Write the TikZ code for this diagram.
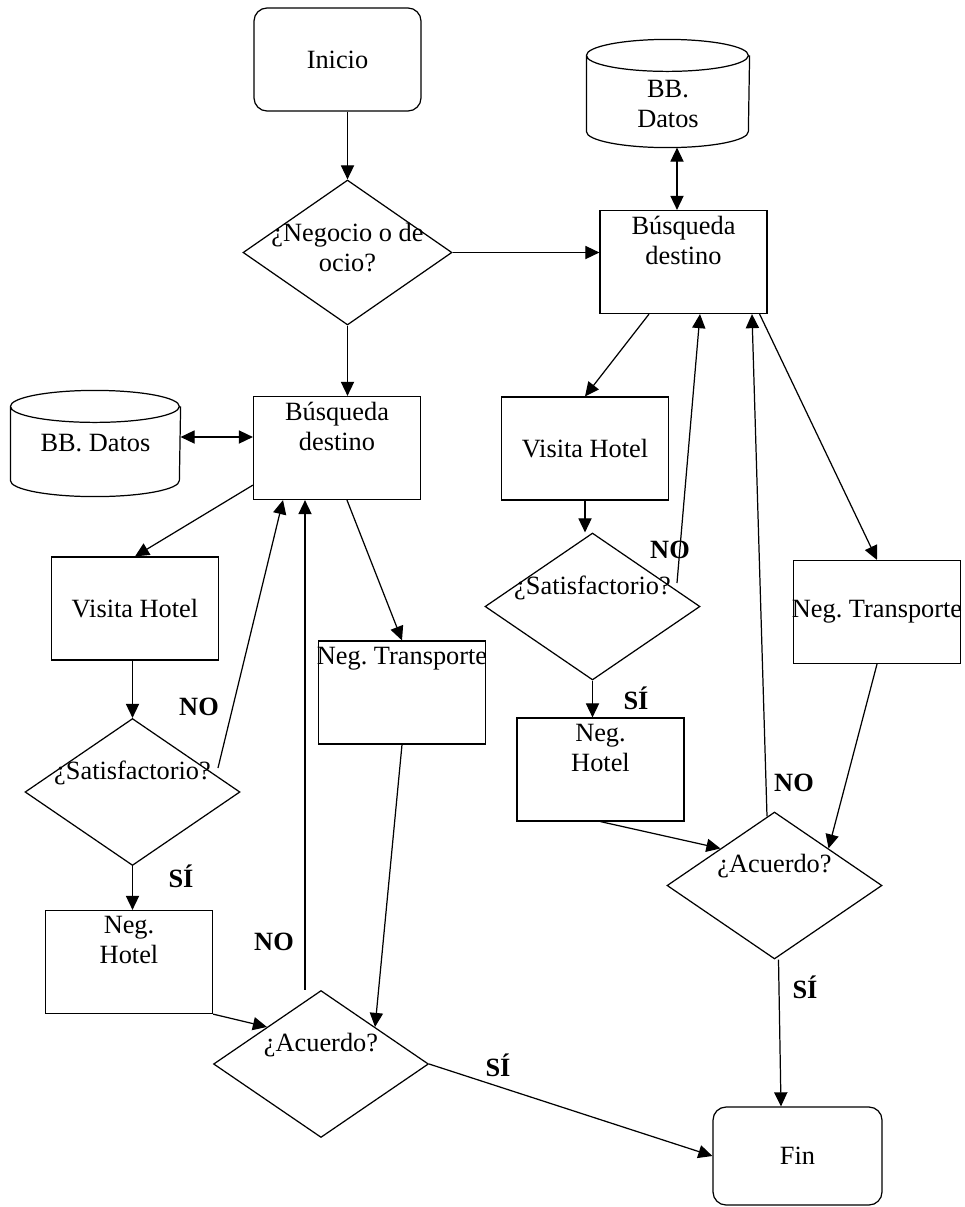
\documentclass[tikz,border=0pt]{standalone}
\usepackage{fontspec}
\setmainfont{Liberation Serif}
\usetikzlibrary{arrows.meta,shapes.geometric,calc}
\frenchspacing
\newcommand{\fuente}{\fontsize{15}{17}\selectfont}
% contorno de un cilindro alrededor del nodo #1, radio x #2
\newcommand{\cilindro}[2]{%
  \draw ([yshift=-0.32cm]#1.north west) arc[start angle=180,end angle=360,x radius=#2,y radius=0.32cm]
    arc[start angle=0,end angle=180,x radius=#2,y radius=0.32cm]
    -- ([yshift=0.32cm]#1.south west)
    arc[start angle=180,end angle=360,x radius=#2,y radius=0.32cm]
    -- ([yshift=-0.32cm]#1.north east);}
\tikzset{
  arr/.style={-{Triangle[length=8pt,width=7.5pt]}},
  dbl/.style={{Triangle[length=8pt,width=7.5pt]}-{Triangle[length=8pt,width=7.5pt]}},
  caja/.style={draw,rectangle,minimum width=3.34cm,minimum height=2.06cm,align=center,inner sep=0pt},
  term/.style={caja,rounded corners=0.26cm},
  deci/.style={draw,diamond,minimum width=4.3cm,minimum height=2.94cm,inner sep=0pt},
  bd/.style={rectangle,align=center,inner sep=0pt},
  arriba/.style={label={[anchor=north,align=center,inner sep=3.5pt]north:#1}},
  preg/.style={label={[yshift=0.38cm]center:#1}},
  sino/.style={font=\fuente\bfseries},
}

\begin{document}
\begin{tikzpicture}[x=0.02cm,y=-0.02cm,line width=0.7pt,font=\fuente]
  \useasboundingbox (0,0) rectangle (964,1207);
  % arriba: inicio y primera pregunta
  \node[term] (inicio) at (337.5,59.5) {Inicio};
  \node[deci,minimum width=4.18cm,minimum height=2.9cm,label={[align=center,yshift=0.1cm]center:¿Negocio o de\\ocio?}] (negocio) at (347.5,252.5) {};
  % rama derecha
  \node[bd,minimum width=3.24cm,minimum height=2.14cm,label={[align=center,yshift=-0.21cm]center:BB.\\Datos}] (bdR) at (668,93.5) {};
  \cilindro{bdR}{1.62cm}
  \node[caja,arriba={Búsqueda\\destino}] (busqR) at (683.5,262) {};
  \node[caja] (visR) at (585,448.5) {Visita Hotel};
  \node[deci,preg={¿Satisfactorio?}] (satR) at (592.5,606.5) {};
  \node[caja,arriba={Neg.\\Hotel}] (nhR) at (600.5,769.5) {};
  \node[caja,label=center:{Neg. Transporte}] (ntrR) at (877,612) {};
  \node[deci,preg={¿Acuerdo?}] (acuR) at (774.5,885.5) {};
  % rama izquierda
  \node[bd,minimum width=3.38cm,minimum height=2.1cm] (bdL) at (95.5,443.5) {BB. Datos};
  \cilindro{bdL}{1.69cm}
  \node[caja,arriba={Búsqueda\\destino}] (busqL) at (337,448) {};
  \node[caja] (visL) at (135,608.5) {Visita Hotel};
  \node[caja,arriba={Neg. Transporte}] (ntrL) at (402,692.5) {};
  \node[deci,preg={¿Satisfactorio?}] (satL) at (132.5,792) {};
  \node[caja,arriba={Neg.\\Hotel}] (nhL) at (129,962) {};
  \node[deci,preg={¿Acuerdo?}] (acuL) at (321,1064) {};
  \node[term,minimum width=3.38cm,minimum height=1.96cm] (fin) at (797.5,1156) {Fin};
  % si / no
  \node[sino] (no1) at (199,707) {NO};
  \node[sino] (si1) at (181,876) {SÍ};
  \node[sino] (no2) at (274,942) {NO};
  \node[sino] (si2) at (498,1065) {SÍ};
  \node[sino] (no3) at (670,550) {NO};
  \node[sino] (si3) at (636,698) {SÍ};
  \node[sino] (no4) at (794,783) {NO};
  \node[sino] (si4) at (805,987) {SÍ};
  % flechas
  \draw[arr] (inicio.south -| negocio.north) -- (negocio.north);
  \draw[arr] (negocio.east) -- (negocio.east -| busqR.west);
  \draw[arr] (negocio.south) -- (negocio.south |- busqL.north);
  \draw[dbl] ([xshift=-0.13cm]busqR.north) -- ([xshift=-0.13cm]busqR.north |- bdR.south);
  \draw[dbl] ([yshift=0.22cm]busqL.west) -- ([yshift=0.22cm]busqL.west -| bdL.east);
  \draw[arr] ([yshift=0.3cm]busqL.south west) -- (visL.north);
  \draw[arr] ([xshift=0.2cm]busqL.south) -- (ntrL.north);
  \draw[arr] (visL.south -| satL.north) -- (satL.north);
  \draw[arr] (satL.south) -- (satL.south |- nhL.north);
  \draw[arr] ([shift={(1.71cm,0.48cm)}]satL.center) -- ([xshift=-1.08cm]busqL.south);
  \draw[arr] ([xshift=-0.32cm]acuL.north) -- ([xshift=-0.32cm]acuL.north |- busqL.south);
  \draw[arr] (nhL.south east) -- (acuL.north west);
  \draw[arr] (ntrL.south) -- (acuL.north east);
  \draw[arr] (acuL.east) -- (fin.west);
  \draw[arr] ([xshift=-0.69cm]busqR.south) -- (visR.north);
  \draw[arr] (visR.south) -- (visR.south |- satR.north);
  \draw[arr] (satR.south) -- (satR.south |- nhR.north);
  \draw[arr] ([shift={(1.69cm,0.47cm)}]satR.center) -- ([xshift=0.33cm]busqR.south);
  \draw[arr] ([shift={(-0.15cm,-0.1cm)}]acuR.north) -- ([xshift=1.37cm]busqR.south);
  \draw[arr] ([xshift=-0.16cm]busqR.south east) -- (ntrR.north);
  \draw[arr] (ntrR.south) -- (acuR.north east);
  \draw[arr] (nhR.south) -- (acuR.north west);
  \draw[arr] ([xshift=0.08cm]acuR.south) -- ([xshift=-0.33cm]fin.north);
\end{tikzpicture}
\end{document}
